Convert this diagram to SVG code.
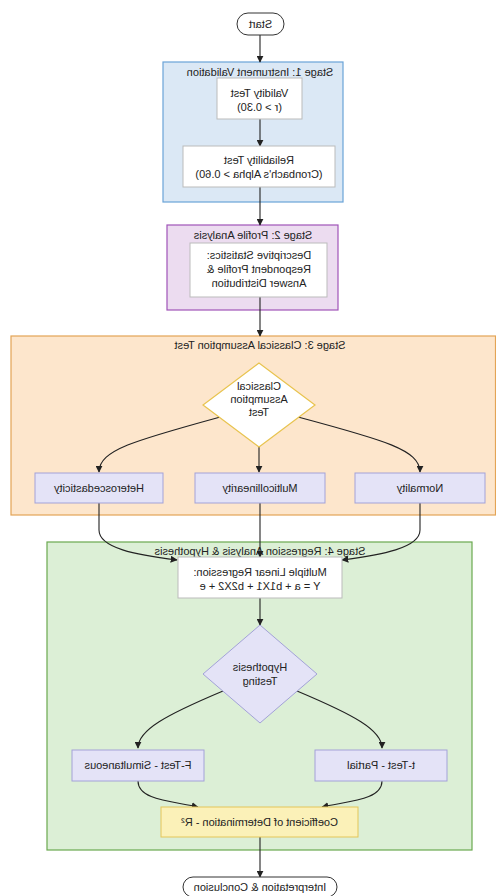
<svg xmlns="http://www.w3.org/2000/svg" width="496" height="896" viewBox="0 0 496 896">
<defs>
<marker id="ah" viewBox="0 0 10 10" refX="9" refY="5" markerWidth="7" markerHeight="7" orient="auto-start-reverse" markerUnits="userSpaceOnUse"><path d="M0,0 L10,5 L0,10 z" fill="#222"/></marker>
<style>
text{font-family:"Liberation Sans",Arial,sans-serif;font-size:11px;fill:#222;text-anchor:middle}
.c{fill:none;stroke:#222;stroke-width:1.1;marker-end:url(#ah)}
.lav{fill:#e4e3f7;stroke:#a3a2d8;stroke-width:1}
.wb{fill:#fff;stroke:#bbb;stroke-width:1}
.term{fill:#fff;stroke:#333;stroke-width:1}
</style>
</defs>
<rect width="496" height="896" fill="#fff"/>
<g transform="translate(496,0) scale(-1,1)">
<g id="stage1"><rect x="153" y="62" width="180" height="140" fill="#dbe8f5" stroke="#6aa3d8" stroke-width="1.2"/><text x="236" y="76">Stage 1: Instrument Validation</text></g>
<g id="stage2"><rect x="158" y="225" width="171" height="85" fill="#ecdcf0" stroke="#a054b8" stroke-width="1.2"/><text x="243" y="239">Stage 2: Profile Analysis</text></g>
<g id="stage3"><rect x="0.5" y="336" width="484.5" height="179" fill="#fde6cc" stroke="#e3a455" stroke-width="1.2"/><text x="236" y="349">Stage 3: Classical Assumption Test</text></g>
<g id="stage4"><rect x="24" y="542" width="425" height="308" fill="#dcefd6" stroke="#6aa84f" stroke-width="1.2"/><text x="236" y="555">Stage 4: Regression Analysis &amp; Hypothesis</text></g>

<g id="connectors">
<path class="c" d="M236,35 L236,62"/>
<path class="c" d="M236,119 L236,146"/>
<path class="c" d="M236,187 L236,225"/>
<path class="c" d="M236,297 L236,336"/>
<path class="c" d="M276,417 C360,440 397,450 397,472"/>
<path class="c" d="M237,447 L237,472"/>
<path class="c" d="M198,417 C112,440 76,450 76,472"/>
<path class="c" d="M397,503 L397,530 C397,548 360,555 319,560"/>
<path class="c" d="M236,503 L236,557"/>
<path class="c" d="M76,503 L76,530 C76,548 115,555 154,560"/>
<path class="c" d="M236,598 L236,625"/>
<path class="c" d="M273,691 C330,715 358,730 358,748"/>
<path class="c" d="M199,691 C142,715 114,730 114,748"/>
<path class="c" d="M358,781 C358,800 325,801 298,807"/>
<path class="c" d="M114,781 C114,800 147,801 174,807"/>
<path class="c" d="M236,837 L236,877"/>
</g>

<g id="start"><rect x="212" y="13" width="47" height="22" rx="11" class="term"/><text x="235.5" y="28">Start</text></g>
<g id="validity"><rect x="194" y="78" width="85" height="41" class="wb"/><text x="236.5" y="97">Validity Test</text><text x="236.5" y="111">(r &gt; 0.30)</text></g>
<g id="reliability"><rect x="161" y="146" width="152" height="41" class="wb"/><text x="237" y="164">Reliability Test</text><text x="237" y="178">(Cronbach's Alpha &gt; 0.60)</text></g>
<g id="descriptive"><rect x="169" y="243" width="137" height="54" class="wb"/><text x="237" y="259">Descriptive Statistics:</text><text x="237" y="273">Respondent Profile &amp;</text><text x="237" y="287">Answer Distribution</text></g>
<g id="classical"><polygon points="237,363 293,405 237,447 181,405" fill="#fff" stroke="#e8c34e" stroke-width="1.2"/><text x="237" y="390">Classical</text><text x="237" y="403">Assumption</text><text x="237" y="416">Test</text></g>
<g id="hetero"><rect x="333" y="473" width="128" height="30" class="lav"/><text x="397" y="492">Heteroscedasticity</text></g>
<g id="multi"><rect x="171" y="473" width="130" height="30" class="lav"/><text x="236" y="492">Multicollinearity</text></g>
<g id="normality"><rect x="11" y="473" width="130" height="30" class="lav"/><text x="76" y="492">Normality</text></g>
<g id="regression"><rect x="154" y="557" width="164" height="41" class="wb"/><text x="236" y="576">Multiple Linear Regression:</text><text x="236" y="590">Y = a + b1X1 + b2X2 + e</text></g>
<g id="hypothesis"><polygon points="236,625 293,674 236,723 179,674" class="lav"/><text x="236" y="671">Hypothesis</text><text x="236" y="685">Testing</text></g>
<g id="ftest"><rect x="292" y="750" width="132" height="31" class="lav"/><text x="358" y="769">F-Test - Simultaneous</text></g>
<g id="ttest"><rect x="49" y="750" width="132" height="31" class="lav"/><text x="115" y="769">t-Test - Partial</text></g>
<g id="coef"><rect x="138" y="807" width="197" height="30" fill="#fbf1b8" stroke="#e3c658" stroke-width="1"/><text x="236.5" y="826">Coefficient of Determination - R²</text></g>
<g id="interp"><rect x="159" y="877" width="154" height="20" rx="10" class="term"/><text x="236" y="891">Interpretation &amp; Conclusion</text></g>
</g>
</svg>
